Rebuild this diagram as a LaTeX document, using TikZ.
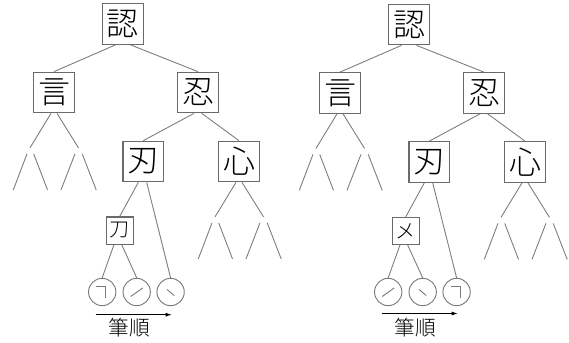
\documentclass[tikz,border=0pt]{standalone}
\usepackage{fontspec}
\setmainfont{Noto Sans CJK JP Light}
\usetikzlibrary{calc,arrows.meta}
\definecolor{boxgray}{HTML}{6A6A6A}
\definecolor{linegray}{HTML}{7A7A7A}
\begin{document}
\begin{tikzpicture}[x=0.75pt,y=-0.75pt,
  kbox/.style={draw=boxgray, line width=0.8pt, minimum size=30.5pt, inner sep=0pt, font=\fontsize{24}{24}\selectfont},
  sbox/.style={draw=boxgray, line width=0.8pt, minimum size=20.3pt, inner sep=0pt, font=\fontsize{15}{15}\selectfont},
  scirc/.style={circle, draw=linegray, line width=0.7pt, minimum size=20.5pt, inner sep=0pt},
  edge/.style={draw=linegray, line width=0.65pt},
  sline/.style={draw=linegray, line width=0.7pt},
  order/.style={font=\fontsize{15.5}{15.5}\selectfont},
  stubs/.pic={
    \draw[edge] (-3,0) -- (-24,34.5) (3,0) -- (24.5,34.5)
      (-27,40.5) -- (-40.7,76.5) (-20.3,40.5) -- (-6.5,76.5)
      (21,40.5) -- (7,76.5) (28.2,40.5) -- (42.2,76.5);
  }]
\useasboundingbox (0,0) rectangle (569,343);

% ---------- left tree ----------
\node[kbox] (Lr) at (123,24) {認};
\node[kbox] (Lya) at (54,92.5) {言};
\node[kbox] (Lni) at (198,92.5) {忍};
\node[kbox] (Lji) at (143.3,161.5) {刃};
\node[kbox] (Lko) at (239,161.5) {心};
\node[sbox] (Lka) at (119.7,230.5) {刀};
\node[scirc] (Lc1) at (102.2,292) {};
\node[scirc] (Lc2) at (136.7,292) {};
\node[scirc] (Lc3) at (170.6,292) {};
\node[order] (Lt) at (129.5,328) {筆順};
\coordinate (La1) at (95.7,314.7);
\coordinate (La2) at (171.7,314.7);

\draw[edge] ($(Lr.south)+(-7.5,0)$) -- (Lya.north);
\draw[edge] ($(Lr.south)+(7.5,0)$) -- (Lni.north);
\draw[edge] ($(Lni.south)+(-4,0)$) -- (Lji.north);
\draw[edge] ($(Lni.south)+(3.7,0)$) -- (Lko.north);
\draw[edge] ($(Lji.south)+(-5,0)$) -- (Lka.north);
\draw[edge] ($(Lji.south)+(3.4,0)$) -- (Lc3.north);
\draw[edge] ($(Lka.south)+(-5.7,0)$) -- (Lc1.north);
\draw[edge] ($(Lka.south)+(2,0)$) -- (Lc2.north);
\pic at (Lya.south) {stubs};
\pic at (Lko.south) {stubs};
\draw[-{Latex[length=4.5pt,width=3pt]}, line width=0.6pt] (La1) -- (La2);
% strokes
\draw[sline] ($(Lc1)+(-6,-6)$) -- ($(Lc1)+(3.5,-6)$) -- ($(Lc1)+(3.5,6)$);
\draw[sline] ($(Lc2)+(-6,4.5)$) -- ($(Lc2)+(6,-4)$);
\draw[sline] ($(Lc3)+(-3.5,-2.5)$) -- ($(Lc3)+(3.5,3.5)$);

% ---------- right tree ----------
\begin{scope}[xshift=286*0.75pt]
\node[kbox] (Rr) at (123,24.5) {認};
\node[kbox] (Rya) at (54,93) {言};
\node[kbox] (Rni) at (198,93) {忍};
\node[kbox] (Rji) at (143.3,162) {刃};
\node[kbox] (Rko) at (239,162) {心};
\node[sbox] (Rka) at (119.7,231) {メ};
\node[scirc] (Rc1) at (102.2,292) {};
\node[scirc] (Rc2) at (136.7,292) {};
\node[scirc] (Rc3) at (170.6,292) {};
\node[order] (Rt) at (129.5,328) {筆順};
\coordinate (Ra1) at (95.7,313.5);
\coordinate (Ra2) at (171.7,313.5);

\draw[edge] ($(Rr.south)+(-7.5,0)$) -- (Rya.north);
\draw[edge] ($(Rr.south)+(7.5,0)$) -- (Rni.north);
\draw[edge] ($(Rni.south)+(-4,0)$) -- (Rji.north);
\draw[edge] ($(Rni.south)+(3.7,0)$) -- (Rko.north);
\draw[edge] ($(Rji.south)+(-5,0)$) -- (Rka.north);
\draw[edge] ($(Rji.south)+(3.4,0)$) -- (Rc3.north);
\draw[edge] ($(Rka.south)+(-5.7,0)$) -- (Rc1.north);
\draw[edge] ($(Rka.south)+(2,0)$) -- (Rc2.north);
\pic at (Rya.south) {stubs};
\pic at (Rko.south) {stubs};
\draw[-{Latex[length=4.5pt,width=3pt]}, line width=0.6pt] (Ra1) -- (Ra2);
\draw[sline] ($(Rc1)+(-6,4.5)$) -- ($(Rc1)+(6,-4)$);
\draw[sline] ($(Rc2)+(-3.5,-2.5)$) -- ($(Rc2)+(3.5,3.5)$);
\draw[sline] ($(Rc3)+(-6,-6)$) -- ($(Rc3)+(3.5,-6)$) -- ($(Rc3)+(3.5,6)$);
\end{scope}
\end{tikzpicture}
\end{document}
